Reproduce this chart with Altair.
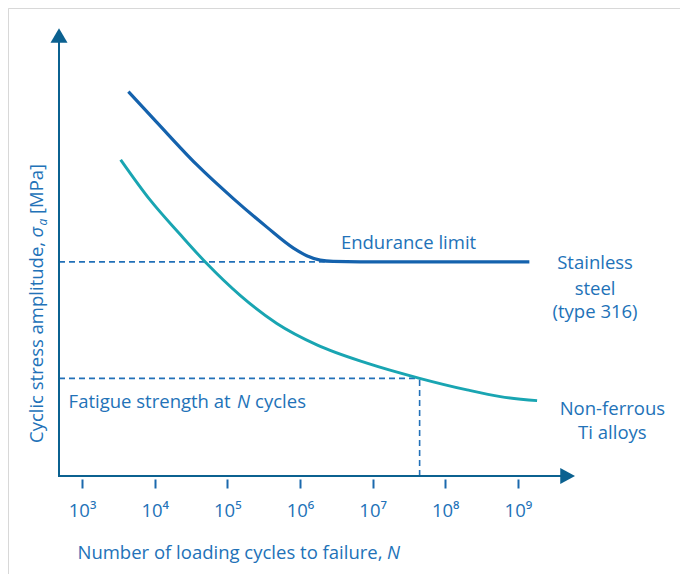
import altair as alt
import pandas as pd

# ---------------- data ----------------
steel_cycles = [4.34e3, 1.07e4, 3.79e4, 1.21e5, 3.50e5, 8.13e5, 1.24e6, 1.90e6, 2.86e6, 6.75e6, 1.17e8, 1.44e9]
steel_stress = [86.2, 79.3, 69.8, 62.2, 55.8, 51.1, 49.4, 48.4, 48.1, 48.0, 48.0, 48.0]

ti_cycles = [3.40e3, 8.63e3, 2.23e4, 5.09e4, 1.50e5, 4.80e5, 1.71e6, 8.36e6, 4.44e7, 2.00e8, 5.74e8, 1.84e9]
ti_stress = [70.9, 61.9, 54.2, 47.8, 40.5, 34.2, 29.4, 25.3, 21.9, 19.3, 17.8, 16.9]

tick_values = [1e3, 1e4, 1e5, 1e6, 1e7, 1e8, 1e9]
tick_labels = ["10³", "10⁴", "10⁵", "10⁶", "10⁷", "10⁸", "10⁹"]

x_domain = [481, 6.12e9]
y_domain = [0, 100]

endurance_limit = 48.0
endurance_end_cycles = 2.2e6
fatigue_cycles = 4.44e7
fatigue_stress = 21.9

axis_x_end = 3.9e9
axis_y_end = 97.5

center_labels = ["Stainless", "steel", "(type 316)", "Non-ferrous", "Ti alloys"]
center_labels_N = [1.156e10, 1.156e10, 1.156e10, 2.0e10, 2.0e10]
center_labels_S = [47.65, 42.0, 36.7, 15.0, 9.75]

left_labels = ["Endurance limit", "Fatigue strength at"]
left_labels_N = [3.66e6, 652]
left_labels_S = [52.2, 16.66]

italic_N_label_N = [1.363e5]
italic_N_label_S = [16.66]
cycles_label_N = [1.21e6]
cycles_label_S = [16.66]

# ---------------- style ----------------
FONT = "Open Sans"
FS = 18.5
TEXT = "#2272b8"
AXIS = "#0b6190"
TICK = "#1b69ad"
STEEL = "#1462ad"
TI = "#19a5b2"
DASH = "#2270b8"

xscale = alt.Scale(type="log", domain=x_domain, nice=False)
yscale = alt.Scale(domain=y_domain, nice=False, zero=False)
label_expr = "[" + ",".join("'" + t + "'" for t in tick_labels) + "][round(log(datum.value)/LN10) - 3]"
xaxis = alt.Axis(values=tick_values, domain=False, grid=False, tickSize=9, tickWidth=2,
                 tickColor=TICK, offset=3, labelExpr=label_expr, labelFont=FONT,
                 labelFontSize=FS, labelColor=TEXT, labelPadding=13, title="")


def X(f):
    return alt.X(f, type="quantitative", scale=xscale, axis=xaxis)


def Y(f):
    return alt.Y(f, type="quantitative", scale=yscale, axis=None)


# ---------------- tables ----------------
steel_df = pd.DataFrame({"N": steel_cycles, "S": steel_stress})
ti_df = pd.DataFrame({"N": ti_cycles, "S": ti_stress})
dash_df = pd.DataFrame({
    "x": [x_domain[0], x_domain[0], fatigue_cycles],
    "x2": [endurance_end_cycles, fatigue_cycles, fatigue_cycles],
    "y": [endurance_limit, fatigue_stress, 0],
    "y2": [endurance_limit, fatigue_stress, fatigue_stress],
})
axis_df = pd.DataFrame({
    "x": [x_domain[0], x_domain[0]],
    "x2": [x_domain[0], axis_x_end],
    "y": [0, 0],
    "y2": [axis_y_end, 0],
})
arrow_up_df = pd.DataFrame({"N": [x_domain[0]], "S": [y_domain[1]]})
arrow_right_df = pd.DataFrame({"N": [x_domain[1]], "S": [y_domain[0]]})
center_df = pd.DataFrame({"N": center_labels_N, "S": center_labels_S, "t": center_labels})
left_df = pd.DataFrame({"N": left_labels_N, "S": left_labels_S, "t": left_labels})
italicN_df = pd.DataFrame({"N": italic_N_label_N, "S": italic_N_label_S, "t": ["N"]})
cycles_df = pd.DataFrame({"N": cycles_label_N, "S": cycles_label_S, "t": ["cycles"]})

# ---------------- layers ----------------
frame = alt.Chart(pd.DataFrame({"k": [0, 1]})).mark_rule(color="#d8d8d8", strokeWidth=1).encode(
    x=alt.value(-50.5), x2=alt.value(-50.5), y=alt.value(-21.5), y2=alt.value(560)
) + alt.Chart(pd.DataFrame({"k": [0]})).mark_rule(color="#d8d8d8", strokeWidth=1).encode(
    x=alt.value(-50.5), x2=alt.value(640), y=alt.value(-21.5), y2=alt.value(-21.5)
)

dashes = alt.Chart(dash_df).mark_rule(color=DASH, strokeWidth=1.6, strokeDash=[6, 4]).encode(
    x=X("x"), x2="x2", y=Y("y"), y2="y2"
)

ti_line = alt.Chart(ti_df).mark_line(color=TI, strokeWidth=2.9, interpolate="monotone").encode(
    x=X("N"), y=Y("S")
)
steel_line = alt.Chart(steel_df).mark_line(color=STEEL, strokeWidth=3.2, interpolate="monotone").encode(
    x=X("N"), y=Y("S")
)

axes = alt.Chart(axis_df).mark_rule(color=AXIS, strokeWidth=2, strokeCap="square").encode(
    x=X("x"), x2="x2", y=Y("y"), y2="y2"
)
arrow_up = alt.Chart(arrow_up_df).mark_point(
    shape="M0,-0.2L-1,1.5L1,1.5Z", size=289, filled=True, color=AXIS, opacity=1, strokeWidth=0
).encode(x=X("N"), y=Y("S"))
arrow_right = alt.Chart(arrow_right_df).mark_point(
    shape="M0,0L-1.84,-1L-1.84,1Z", size=256, filled=True, color=AXIS, opacity=1, strokeWidth=0
).encode(x=X("N"), y=Y("S"))

txt = dict(font=FONT, fontSize=FS, color=TEXT, baseline="middle")
center_text = alt.Chart(center_df).mark_text(align="center", **txt).encode(x=X("N"), y=Y("S"), text="t")
left_text = alt.Chart(left_df).mark_text(align="left", **txt).encode(x=X("N"), y=Y("S"), text="t")
italicN_text = alt.Chart(italicN_df).mark_text(align="left", fontStyle="italic", **txt).encode(
    x=X("N"), y=Y("S"), text="t")
cycles_text = alt.Chart(cycles_df).mark_text(align="right", **txt).encode(x=X("N"), y=Y("S"), text="t")

# axis titles (pixel positions inside the plot frame)
one = pd.DataFrame({"k": [0]})
xt1 = alt.Chart(one).mark_text(align="right", **txt).encode(
    x=alt.value(323.5), y=alt.value(523), text=alt.value("Number of loading cycles to failure,"))
xt2 = alt.Chart(one).mark_text(align="left", fontStyle="italic", **txt).encode(
    x=alt.value(328), y=alt.value(523), text=alt.value("N"))

ytxt = dict(font=FONT, color=TEXT, baseline="alphabetic", angle=270, align="left")
yt1 = alt.Chart(one).mark_text(fontSize=FS, **ytxt).encode(
    x=alt.value(-16), y=alt.value(413), text=alt.value("Cyclic stress amplitude,"))
yt2 = alt.Chart(one).mark_text(fontSize=FS, fontStyle="italic", **ytxt).encode(
    x=alt.value(-16), y=alt.value(207.5), text=alt.value("σ"))
yt3 = alt.Chart(one).mark_text(fontSize=12, fontStyle="italic", **ytxt).encode(
    x=alt.value(-12), y=alt.value(195.5), text=alt.value("a"))
yt4 = alt.Chart(one).mark_text(fontSize=FS, **ytxt).encode(
    x=alt.value(-16), y=alt.value(184), text=alt.value("[MPa]"))

chart = alt.layer(
    frame, dashes, ti_line, steel_line, axes, arrow_up, arrow_right,
    center_text, left_text, italicN_text, cycles_text, xt1, xt2, yt1, yt2, yt3, yt4
).properties(
    width=516, height=446,
    autosize=alt.AutoSizeParams(type="none"),
    padding={"left": 51, "top": 22, "right": 105, "bottom": 98},
    background="white",
).configure_view(strokeWidth=0)

chart.save("out.html", embed_options={"renderer": "svg", "actions": False})
